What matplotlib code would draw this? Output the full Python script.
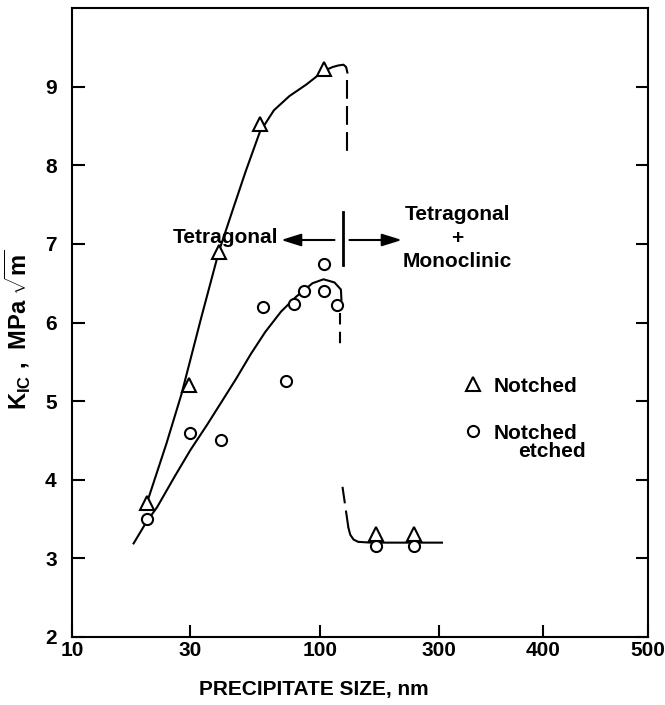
import numpy as np
import matplotlib as mpl
mpl.use('Agg')
import matplotlib.pyplot as plt

# measured points
NOTCHED_X = [20, 29.5, 39, 57, 103, 167, 238]
NOTCHED_Y = [3.7, 5.2, 6.9, 8.52, 9.22, 3.31, 3.31]
ETCHED_X = [20, 30, 39.7, 59, 72.8, 78, 86, 103, 103, 117, 167, 238]
ETCHED_Y = [3.5, 4.6, 4.5, 6.2, 5.25, 6.24, 6.4, 6.75, 6.4, 6.22, 3.16, 3.16]

# hand drawn trend curves
NOTCHED_CURVE_X = [20, 24, 27.6, 33, 39, 45, 50, 57, 65, 75, 88, 103, 112, 118, 124, 127, 128.5]
NOTCHED_CURVE_Y = [3.7, 4.46, 5.09, 6.04, 6.9, 7.49, 7.92, 8.42, 8.7, 8.88, 9.03, 9.2, 9.25, 9.27, 9.28, 9.25, 9.18]
NOTCHED_DROP_X = [128.5, 128.5]
NOTCHED_DROP_Y = [9.08, 8.12]

ETCHED_CURVE_X = [17.7, 20, 22, 26, 30, 35, 40, 45.7, 52.5, 60, 69.5, 80, 93, 103, 114, 121, 121.6]
ETCHED_CURVE_Y = [3.19, 3.47, 3.65, 4.05, 4.38, 4.7, 4.99, 5.28, 5.6, 5.88, 6.14, 6.33, 6.5, 6.55, 6.51, 6.42, 6.29]
ETCHED_DROP1_X = [120, 120]
ETCHED_DROP1_Y = [6.12, 5.7]
ETCHED_DROP2_X = [122.8, 129.7]
ETCHED_DROP2_Y = [3.91, 3.39]
FLAT_X = [129.7, 132, 136, 142, 160, 303]
FLAT_Y = [3.39, 3.3, 3.24, 3.21, 3.2, 3.2]

XTICKS = [10, 30, 100, 300, 400, 500]
YTICKS = [2, 3, 4, 5, 6, 7, 8, 9]

# the paper's axis: log up to 300, then linear
BREAK = 300.0
K = 0.00421


def fwd(x):
    x = np.asarray(x, dtype=float)
    lg = np.log10(np.clip(x, 1e-6, None))
    return np.where(x <= BREAK, lg, np.log10(BREAK) + (x - BREAK) * K)


def inv(y):
    y = np.asarray(y, dtype=float)
    with np.errstate(over='ignore'):
        p = np.power(10.0, np.clip(y, -10, 10))
    return np.where(y <= np.log10(BREAK), p, BREAK + (y - np.log10(BREAK)) / K)


plt.rcParams['font.family'] = ['Liberation Sans', 'DejaVu Sans']
plt.rcParams['font.weight'] = 'bold'
plt.rcParams['mathtext.fontset'] = 'custom'
plt.rcParams['mathtext.rm'] = 'Liberation Sans:bold'
plt.rcParams['mathtext.it'] = 'Liberation Sans:bold'
plt.rcParams['mathtext.bf'] = 'Liberation Sans:bold'

fig = plt.figure(figsize=(6.65, 7.05), dpi=100)
ax = fig.add_axes([0.1083, 0.0965, 0.866, 0.892])

ax.set_xscale('function', functions=(fwd, inv))
ax.set_xlim(10, 500)
ax.set_ylim(2, 10)

lw = 1.5
ax.plot(NOTCHED_CURVE_X, NOTCHED_CURVE_Y, color='k', lw=lw, zorder=2)
ax.plot(NOTCHED_DROP_X, NOTCHED_DROP_Y, color='k', lw=lw, ls=(0, (9, 3.5)), zorder=2)
ax.plot(ETCHED_CURVE_X, ETCHED_CURVE_Y, color='k', lw=lw, zorder=2)
ax.plot(ETCHED_DROP1_X, ETCHED_DROP1_Y, color='k', lw=lw, ls=(0, (5.5, 3.5)), zorder=2)
ax.plot(ETCHED_DROP2_X, ETCHED_DROP2_Y, color='k', lw=lw, ls=(0, (8, 3.5)), zorder=2)
ax.plot(FLAT_X, FLAT_Y, color='k', lw=lw, zorder=2)

tri, = ax.plot(NOTCHED_X, NOTCHED_Y, ls='none', marker='^', ms=10, mfc='white',
               mec='k', mew=1.5, zorder=4, label='Notched')
circ, = ax.plot(ETCHED_X, ETCHED_Y, ls='none', marker='o', ms=8, mfc='white',
                mec='k', mew=1.5, zorder=3, label='Notched')

# phase boundary annotation
ax.plot([123, 123], [6.73, 7.41], color='k', lw=2)
arrow = dict(arrowstyle='-|>,head_length=0.8,head_width=0.25', color='k', lw=1.5,
             shrinkA=0, shrinkB=0, mutation_scale=15)
ax.annotate('', xy=(69.5, 7.05), xytext=(114, 7.05), arrowprops=arrow)
ax.annotate('', xy=(213, 7.05), xytext=(131, 7.05), arrowprops=arrow)
ax.text(67.6, 7.08, 'Tetragonal', ha='right', va='center', fontsize=15, fontweight='bold')
ax.text(318, 7.07, 'Tetragonal\n+\nMonoclinic', ha='center', va='center',
        multialignment='center', fontsize=15, fontweight='bold', linespacing=1.3)

leg = ax.legend(handles=[tri, circ], loc='upper left', bbox_to_anchor=(0.678, 0.414),
                frameon=False, fontsize=15, handlelength=1.0, handletextpad=0.5,
                labelspacing=1.34, borderpad=0, borderaxespad=0, numpoints=1)
ax.text(376, 4.36, 'etched', ha='left', va='center', fontsize=15, fontweight='bold')

ax.set_xticks(XTICKS)
ax.set_xticklabels([str(v) for v in XTICKS])
ax.xaxis.set_minor_locator(mpl.ticker.NullLocator())
ax.set_yticks(YTICKS)
ax.yaxis.set_minor_locator(mpl.ticker.NullLocator())

ax.tick_params(axis='x', direction='in', length=9, width=1.5, labelsize=15,
               top=False, bottom=True, pad=3)
ax.tick_params(axis='y', direction='in', length=9, width=1.5, labelsize=15,
               left=True, right=True, pad=11)
for s in ax.spines.values():
    s.set_linewidth(1.5)

ax.set_xlabel('PRECIPITATE SIZE, nm', fontsize=15, fontweight='bold')
ax.xaxis.set_label_coords(0.42, -0.068)
ax.xaxis.label.set_va('top')
ax.set_ylabel(r'K$_{IC}$ ,  MPa $\sqrt{m}$', fontsize=17, fontweight='bold')
ax.yaxis.set_label_coords(-0.068, 0.488)

plt.savefig('out.png', dpi=100)
plt.close(fig)
